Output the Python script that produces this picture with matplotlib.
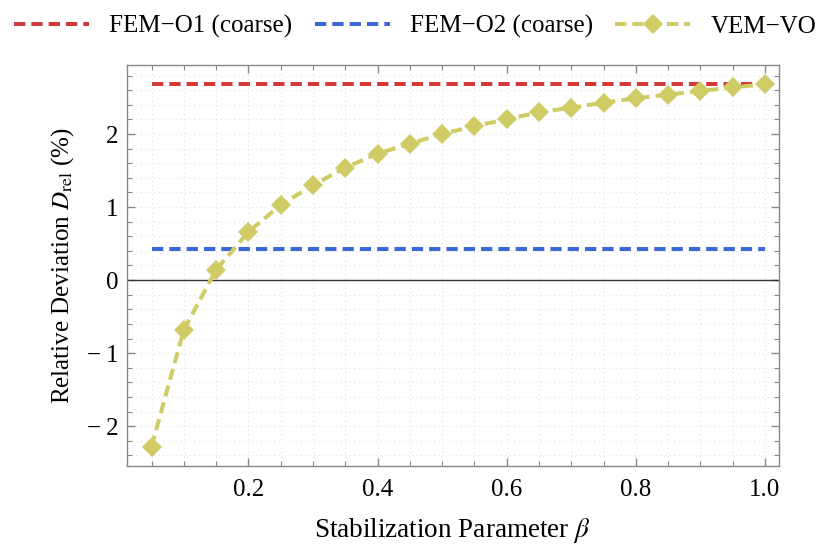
import numpy as np
import matplotlib.pyplot as plt

# data
beta = [0.05, 0.10, 0.15, 0.20, 0.25, 0.30, 0.35, 0.40, 0.45, 0.50,
        0.55, 0.60, 0.65, 0.70, 0.75, 0.80, 0.85, 0.90, 0.95, 1.00]
vem_vo = [-2.28, -0.68, 0.14, 0.66, 1.03, 1.30, 1.54, 1.73, 1.87, 2.00,
          2.11, 2.20, 2.30, 2.36, 2.43, 2.49, 2.54, 2.59, 2.64, 2.68]
fem_o1 = 2.68
fem_o2 = 0.43
labels = ["FEM\u2212O1 (coarse)", "FEM\u2212O2 (coarse)", "VEM\u2212VO"]
colors = ["#d13a3a", "#3a68d4", "#cfcb65"]

plt.rcParams['font.family'] = ['Liberation Serif', 'DejaVu Serif']
plt.rcParams['mathtext.fontset'] = 'stix'

fig = plt.figure(figsize=(8.3, 5.46), dpi=100)
ax = fig.add_axes([0.153, 0.146, 0.785, 0.7355])

lw = 2.9
dash = (0, (2.8, 1.5))
ax.plot([beta[0], beta[-1]], [fem_o1, fem_o1], color=colors[0], lw=lw,
        linestyle=dash, label=labels[0], zorder=3)
ax.plot([beta[0], beta[-1]], [fem_o2, fem_o2], color=colors[1], lw=lw,
        linestyle=dash, label=labels[1], zorder=3)
ax.plot(beta, vem_vo, color=colors[2], lw=lw, linestyle=dash,
        marker='D', markersize=10, markeredgewidth=0, label=labels[2], zorder=4)

ax.axhline(0, color='#333333', lw=1.0, zorder=2)

ax.set_xlim(0.012, 1.021)
ax.set_ylim(-2.55, 2.95)

ax.set_xticks([0.2, 0.4, 0.6, 0.8, 1.0])
ax.set_xticks(np.arange(0.05, 1.001, 0.05), minor=True)
ax.set_yticks([-2, -1, 0, 1, 2])
ax.set_yticks(np.arange(-2.4, 2.81, 0.2), minor=True)
ax.set_xticklabels(["0.2", "0.4", "0.6", "0.8", "1.0"])
ax.set_yticklabels(["\u2212\u20092", "\u2212\u20091", "0", "1", "2"])

ax.tick_params(which='both', direction='in', top=True, right=True,
               color='#888888', labelsize=18)
ax.tick_params(which='major', length=6, width=1)
ax.tick_params(which='minor', length=3.5, width=0.8)
ax.tick_params(axis='x', pad=9)
ax.tick_params(axis='y', pad=6)
for s in ax.spines.values():
    s.set_color('#888888')
    s.set_linewidth(1)

ax.grid(True, which='both', color='#e2e2e2', lw=0.8, linestyle=(0, (1, 3)))
ax.set_axisbelow(True)

ax.set_xlabel(r"Stabilization Parameter $\beta$", fontsize=19.5, labelpad=11)
ax.set_ylabel(r"Relative Deviation $D_{\rm rel}$ (%)", fontsize=18, labelpad=8)

fig.legend(loc='upper center', bbox_to_anchor=(0.5, 1.0), ncol=3,
           frameon=False, fontsize=18, handlelength=3.0, handletextpad=0.8,
           columnspacing=0.9, borderaxespad=0.2)

fig.savefig("out.png", dpi=100)
